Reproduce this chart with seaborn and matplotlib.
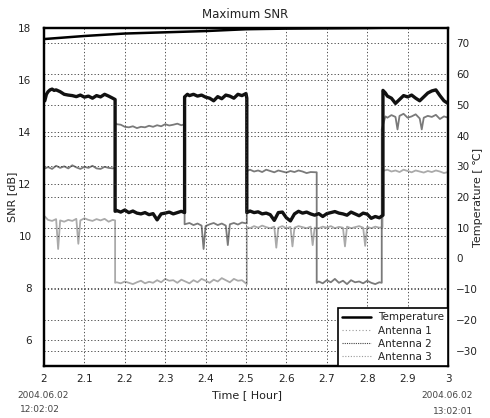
import matplotlib
matplotlib.use("Agg")
import matplotlib.pyplot as plt
import seaborn as sns
import pandas as pd
from matplotlib.lines import Line2D

# ---------------- data ----------------
x_ticks = [2.0, 2.1, 2.2, 2.3, 2.4, 2.5, 2.6, 2.7, 2.8, 2.9, 3.0]
x_tick_labels = ["2", "2.1", "2.2", "2.3", "2.4", "2.5", "2.6", "2.7", "2.8", "2.9", "3"]
snr_ticks = [6, 8, 10, 12, 14, 16, 18]
temp_ticks = [-30, -20, -10, 0, 10, 20, 30, 40, 50, 60, 70]

temp_t = [2.0, 2.05, 2.1, 2.15, 2.2, 2.25, 2.3, 2.35, 2.4, 2.45, 2.5, 2.6, 2.7, 2.8, 2.9, 3.0]
temp_v = [71.4, 71.9, 72.4, 72.8, 73.2, 73.4, 73.6, 73.8, 74.0, 74.3, 74.6, 74.8, 74.9, 75.0, 75.2, 75.3]

# Antenna 2 (dark trace)
a2_t = [2.002, 2.006, 2.01, 2.015, 2.02, 2.025, 2.03, 2.04, 2.05, 2.06, 2.07, 2.08, 2.09, 2.10,
        2.11, 2.12, 2.13, 2.14, 2.15, 2.16, 2.17, 2.176,
        2.176, 2.18, 2.19, 2.20, 2.21, 2.22, 2.23, 2.24, 2.25, 2.26, 2.27, 2.28, 2.29, 2.30,
        2.31, 2.32, 2.33, 2.34, 2.348,
        2.348, 2.355, 2.36, 2.37, 2.38, 2.39, 2.40, 2.41, 2.42, 2.43, 2.44, 2.45, 2.46, 2.47,
        2.48, 2.49, 2.50, 2.502,
        2.502, 2.51, 2.52, 2.53, 2.54, 2.55, 2.56, 2.57, 2.58, 2.59, 2.60, 2.61, 2.62, 2.63,
        2.64, 2.65, 2.66, 2.67, 2.68, 2.69, 2.70, 2.71, 2.72, 2.73, 2.74, 2.75, 2.76, 2.77,
        2.78, 2.79, 2.80, 2.81, 2.82, 2.83, 2.839,
        2.839, 2.845, 2.85, 2.86, 2.87, 2.88, 2.89, 2.90, 2.91, 2.92, 2.93, 2.94, 2.95, 2.96,
        2.97, 2.98, 2.99, 3.0]
a2_v = [15.20, 15.45, 15.55, 15.62, 15.65, 15.60, 15.62, 15.55, 15.45, 15.42, 15.40, 15.36,
        15.42, 15.34, 15.38, 15.30, 15.40, 15.35, 15.45, 15.38, 15.30, 15.25,
        10.95, 10.98, 10.92, 11.00, 10.90, 10.96, 10.88, 10.85, 10.90, 10.82, 10.86, 10.62,
        10.85, 10.88, 10.92, 10.85, 10.90, 10.95, 10.90,
        15.35, 15.45, 15.40, 15.45, 15.38, 15.42, 15.34, 15.30, 15.20, 15.36, 15.28, 15.42,
        15.38, 15.30, 15.45, 15.40, 15.48, 15.30,
        10.90, 10.96, 10.90, 10.93, 10.85, 10.88, 10.82, 10.60, 10.90, 10.92, 10.70, 10.58,
        10.85, 10.95, 10.88, 10.92, 10.85, 10.80, 10.86, 10.75, 10.86, 10.90, 10.94, 10.88,
        10.85, 10.80, 10.92, 10.85, 10.78, 10.88, 10.84, 10.68, 10.75, 10.70, 10.80,
        15.60, 15.50, 15.38, 15.30, 15.10, 15.25, 15.40, 15.35, 15.42, 15.30, 15.20, 15.35,
        15.50, 15.58, 15.62, 15.40, 15.20, 15.10]

# Antenna 1 (grey trace)
a1_t = [2.002, 2.01, 2.02, 2.03, 2.04, 2.05, 2.06, 2.07, 2.08, 2.09, 2.10, 2.11, 2.12, 2.13,
        2.14, 2.15, 2.16, 2.17, 2.176,
        2.176, 2.18, 2.19, 2.20, 2.21, 2.22, 2.23, 2.24, 2.25, 2.26, 2.27, 2.28, 2.29, 2.30,
        2.31, 2.32, 2.33, 2.34, 2.348,
        2.348, 2.36, 2.37, 2.38, 2.39, 2.395, 2.40, 2.41, 2.42, 2.43, 2.44, 2.45, 2.455, 2.46,
        2.47, 2.48, 2.49, 2.502,
        2.502, 2.51, 2.52, 2.53, 2.54, 2.55, 2.56, 2.57, 2.58, 2.59, 2.60, 2.61, 2.62, 2.63,
        2.64, 2.65, 2.66, 2.675,
        2.675, 2.68, 2.69, 2.70, 2.71, 2.72, 2.73, 2.74, 2.75, 2.76, 2.77, 2.78, 2.79, 2.80,
        2.81, 2.82, 2.83, 2.836,
        2.836, 2.845, 2.85, 2.86, 2.87, 2.875, 2.88, 2.89, 2.90, 2.91, 2.92, 2.93, 2.935, 2.94,
        2.95, 2.96, 2.97, 2.98, 2.99, 3.0]
a1_v = [12.60, 12.65, 12.58, 12.70, 12.62, 12.68, 12.60, 12.72, 12.64, 12.58, 12.66, 12.62,
        12.70, 12.60, 12.58, 12.66, 12.62, 12.60, 12.62,
        14.35, 14.30, 14.28, 14.20, 14.18, 14.22, 14.15, 14.20, 14.18, 14.24, 14.20, 14.26,
        14.22, 14.30, 14.25, 14.28, 14.32, 14.26, 14.30,
        10.45, 10.50, 10.42, 10.48, 10.40, 9.50, 10.38, 10.45, 10.50, 10.42, 10.48, 10.40,
        9.65, 10.45, 10.50, 10.44, 10.52, 10.48,
        12.50, 12.55, 12.48, 12.52, 12.46, 12.55, 12.50, 12.45, 12.52, 12.48, 12.44, 12.50,
        12.46, 12.52, 12.48, 12.42, 12.46, 12.45,
        8.20, 8.25, 8.18, 8.30, 8.22, 8.35, 8.20, 8.28, 8.15, 8.30, 8.22, 8.25, 8.18, 8.28,
        8.20, 8.15, 8.22, 8.20,
        14.10, 14.60, 14.55, 14.65, 14.58, 14.10, 14.62, 14.70, 14.55, 14.60, 14.68, 14.52,
        14.10, 14.55, 14.62, 14.58, 14.66, 14.50, 14.60, 14.55]

# Antenna 3 (light trace)
a3_t = [2.002, 2.01, 2.02, 2.03, 2.035, 2.04, 2.05, 2.06, 2.07, 2.08, 2.085, 2.09, 2.10,
        2.11, 2.12, 2.13, 2.14, 2.15, 2.16, 2.17, 2.176,
        2.176, 2.18, 2.19, 2.20, 2.21, 2.22, 2.23, 2.24, 2.25, 2.26, 2.27, 2.28, 2.29, 2.30,
        2.31, 2.32, 2.33, 2.34, 2.35, 2.36, 2.37, 2.38, 2.39, 2.40, 2.41, 2.42, 2.43, 2.44,
        2.45, 2.46, 2.47, 2.48, 2.49, 2.502,
        2.502, 2.51, 2.52, 2.53, 2.54, 2.55, 2.56, 2.57, 2.575, 2.58, 2.59, 2.60, 2.61, 2.615,
        2.62, 2.63, 2.64, 2.65, 2.66, 2.665, 2.67, 2.68, 2.69, 2.70, 2.71, 2.72, 2.73, 2.74,
        2.745, 2.75, 2.76, 2.77, 2.78, 2.79, 2.795, 2.80, 2.81, 2.82, 2.83, 2.838,
        2.838, 2.85, 2.86, 2.87, 2.88, 2.89, 2.90, 2.91, 2.92, 2.93, 2.94, 2.95, 2.96, 2.97,
        2.98, 2.99, 3.0]
a3_v = [10.75, 10.62, 10.58, 10.65, 9.50, 10.60, 10.55, 10.62, 10.58, 10.66, 9.70, 10.60,
        10.68, 10.62, 10.58, 10.65, 10.60, 10.66, 10.55, 10.62, 10.60,
        8.20, 8.22, 8.18, 8.25, 8.20, 8.15, 8.22, 8.28, 8.18, 8.24, 8.20, 8.30, 8.22, 8.35,
        8.28, 8.30, 8.20, 8.32, 8.25, 8.18, 8.30, 8.22, 8.35, 8.28, 8.20, 8.32, 8.25, 8.38,
        8.30, 8.22, 8.35, 8.28, 8.30, 8.15,
        10.35, 10.30, 10.38, 10.32, 10.40, 10.34, 10.30, 10.36, 9.55, 10.32, 10.38, 10.30,
        10.35, 9.60, 10.32, 10.38, 10.34, 10.30, 10.36, 9.65, 10.32, 10.30, 10.36, 10.32,
        10.38, 10.30, 10.35, 10.32, 9.60, 10.36, 10.30, 10.34, 10.38, 10.32, 9.62, 10.35,
        10.30, 10.36, 10.32, 10.34,
        12.50, 12.55, 12.48, 12.52, 12.46, 12.55, 12.50, 12.45, 12.52, 12.48, 12.44, 12.50,
        12.46, 12.52, 12.48, 12.42, 12.46]

# ---------------- figure ----------------
sns.set_theme(style="white")
plt.rcParams["font.family"] = ["DejaVu Sans"]
text_color = "#222222"

fig = plt.figure(figsize=(4.9, 4.18), dpi=100)
ax = fig.add_axes([44 / 490, 1 - 366 / 418, (448 - 44) / 490, (366 - 28) / 418])
ax2 = ax.twinx()

df1 = pd.DataFrame({"t": a1_t, "v": a1_v})
df2 = pd.DataFrame({"t": a2_t, "v": a2_v})
df3 = pd.DataFrame({"t": a3_t, "v": a3_v})
dft = pd.DataFrame({"t": temp_t, "v": temp_v})

sns.lineplot(data=df3, x="t", y="v", ax=ax, sort=False, estimator=None,
             color="#aaaaaa", linewidth=1.3)
sns.lineplot(data=df1, x="t", y="v", ax=ax, sort=False, estimator=None,
             color="#7a7a7a", linewidth=1.3)
sns.lineplot(data=df2, x="t", y="v", ax=ax, sort=False, estimator=None,
             color="#111111", linewidth=2.4)
sns.lineplot(data=dft, x="t", y="v", ax=ax2, sort=False, estimator=None,
             color="black", linewidth=1.8)

ax.set_xlim(2.0, 3.0)
ax.set_ylim(5, 18)
ax2.set_ylim(-35, 75)
ax.set_xticks(x_ticks)
ax.set_xticklabels(x_tick_labels)
ax.set_yticks(snr_ticks)
ax2.set_yticks(temp_ticks)
ax2.set_yticklabels(["\u221230", "\u221220", "\u221210", "0", "10", "20", "30", "40", "50", "60", "70"])

grid_kw = dict(color="#333333", linestyle=(0, (1.5, 2.5)), linewidth=0.6)
ax.grid(True, axis="both", **grid_kw)
ax2.grid(True, axis="y", **grid_kw)
ax.set_axisbelow(False)

for a in (ax, ax2):
    a.tick_params(length=0, labelsize=7.5, colors=text_color)
    for s in a.spines.values():
        s.set_color("black")
        s.set_linewidth(1.6)
ax.tick_params(axis="y", pad=9)
ax2.tick_params(axis="y", pad=6)
ax.tick_params(axis="x", pad=6)

ax.set_xlabel("")
ax.set_ylabel("")
ax2.set_ylabel("")

fig.text(245 / 490, 1 - 14 / 418, "Maximum SNR", ha="center", va="center",
         fontsize=8.5, color=text_color)
fig.text(12 / 490, 1 - 197 / 418, "SNR [dB]", rotation=90, ha="center", va="center",
         fontsize=8, color=text_color)
fig.text(478 / 490, 1 - 197 / 418, "Temperature [ \u2103]", rotation=90, ha="center",
         va="center", fontsize=8, color=text_color)
fig.text(247 / 490, 1 - 395 / 418, "Time [ Hour]", ha="center", va="center",
         fontsize=8, color=text_color)
fig.text(43 / 490, 1 - 396 / 418, "2004.06.02", ha="center", va="center",
         fontsize=6.5, color="#444444")
fig.text(40 / 490, 1 - 410 / 418, "12:02:02", ha="center", va="center",
         fontsize=6.5, color="#444444")
fig.text(447 / 490, 1 - 396 / 418, "2004.06.02", ha="center", va="center",
         fontsize=6.5, color="#444444")
fig.text(453 / 490, 1 - 411 / 418, "13:02:01", ha="center", va="center",
         fontsize=6.5, color="#444444")

handles = [
    Line2D([], [], color="black", linewidth=1.8),
    Line2D([], [], color="#9a9a9a", linewidth=0.8, linestyle=(0, (1, 2))),
    Line2D([], [], color="#444444", linewidth=0.8, linestyle=(0, (1, 1))),
    Line2D([], [], color="#9a9a9a", linewidth=0.8, linestyle=(0, (1, 1.5))),
]
leg = ax2.legend(handles, ["Temperature", "Antenna 1", "Antenna 2", "Antenna 3"],
                 loc="lower right", fontsize=7.5, frameon=True, fancybox=False,
                 borderaxespad=0, handlelength=2.7, handletextpad=0.7,
                 labelspacing=0.3, borderpad=0.4)
leg.get_frame().set_edgecolor("black")
leg.get_frame().set_linewidth(1.2)
leg.get_frame().set_alpha(1)
for t in leg.get_texts():
    t.set_color(text_color)

fig.savefig("out.png", dpi=100, facecolor="white")
